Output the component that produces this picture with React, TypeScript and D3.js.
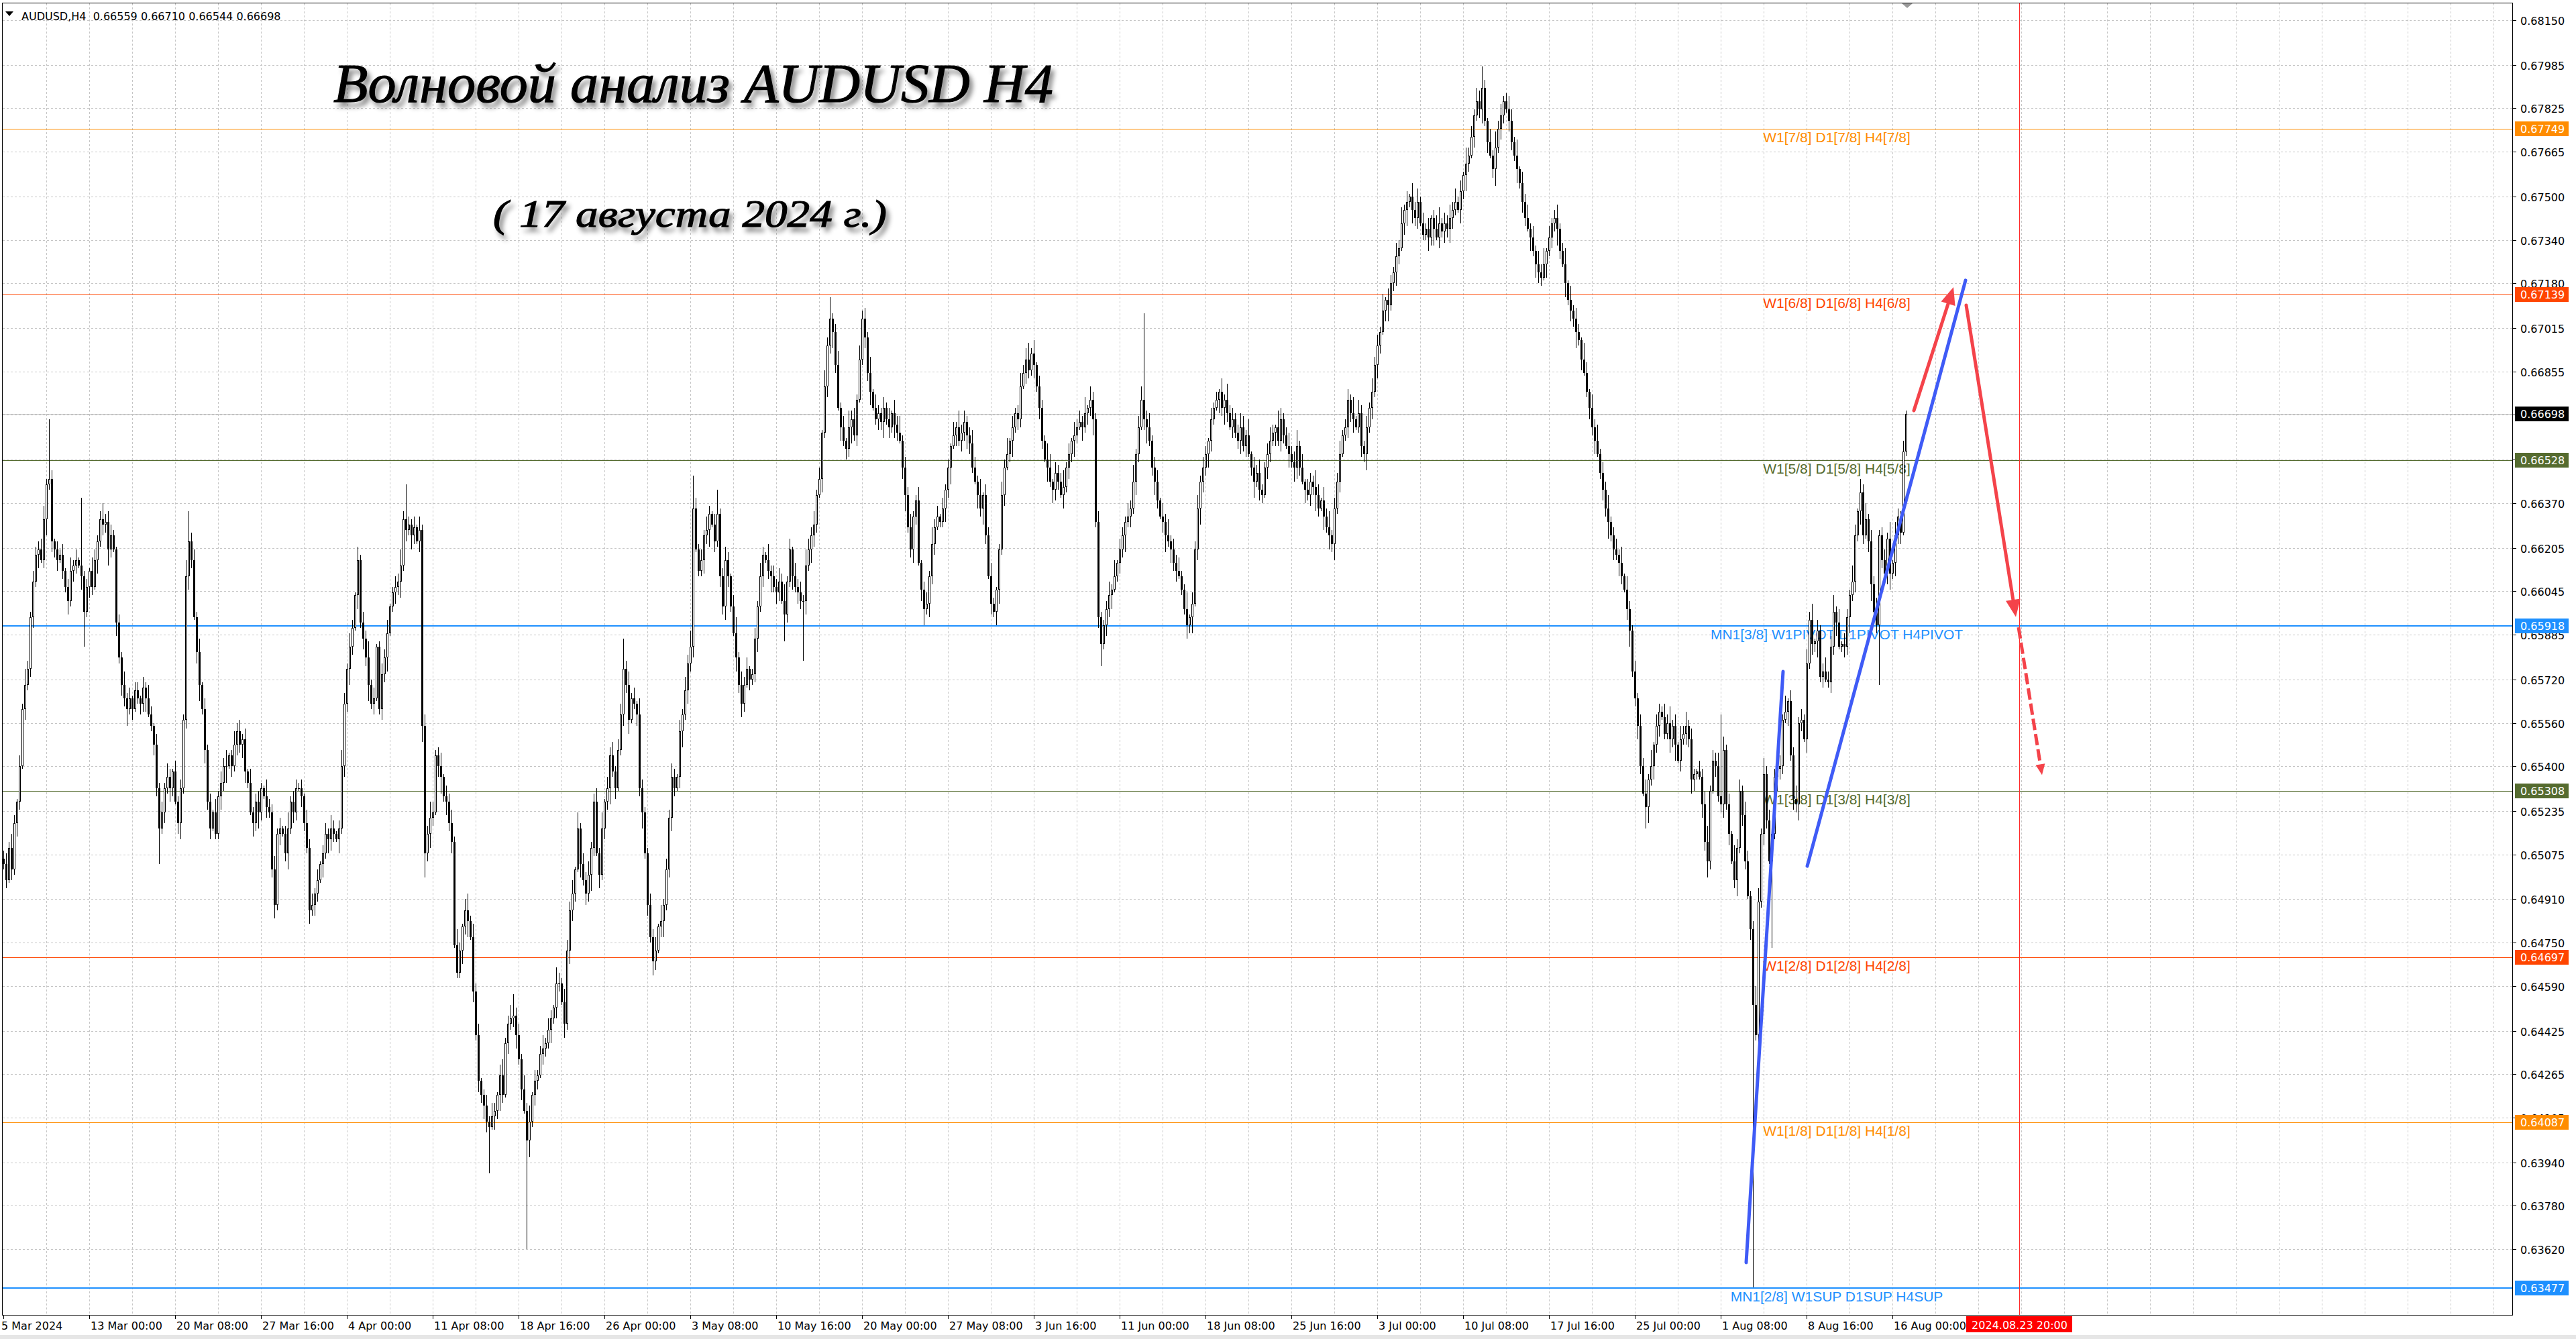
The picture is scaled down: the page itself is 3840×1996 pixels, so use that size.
import React from 'react';
import * as d3 from 'd3';

// AUDUSD H4, 5 Mar 2024 .. 16 Aug 2024, closes in pips (0.0001)
const closes: number[] = [
  6504, 6498, 6510, 6502, 6519, 6527, 6540, 6561, 6570, 6576,
  6595, 6608, 6618, 6620, 6616, 6631, 6644, 6646, 6623, 6620,
  6616, 6618, 6612, 6606, 6601, 6612, 6614, 6616, 6614, 6610,
  6597, 6606, 6612, 6606, 6616, 6623, 6631, 6629, 6630, 6620,
  6625, 6620, 6593, 6580, 6570, 6565, 6561, 6565, 6561, 6568,
  6565, 6563, 6569, 6565, 6559, 6555, 6548, 6532, 6517, 6523,
  6532, 6536, 6532, 6538, 6527, 6519, 6532, 6557, 6610, 6623,
  6616, 6595, 6582, 6570, 6561, 6546, 6527, 6517, 6523, 6515,
  6529, 6534, 6540, 6540, 6544, 6540, 6548, 6553, 6548, 6550,
  6538, 6534, 6523, 6519, 6527, 6523, 6532, 6529, 6525, 6523,
  6502, 6489, 6515, 6517, 6515, 6508, 6517, 6527, 6523, 6532,
  6532, 6529, 6519, 6510, 6487, 6489, 6493, 6498, 6504, 6508,
  6515, 6513, 6517, 6515, 6513, 6517, 6540, 6563, 6576, 6584,
  6591, 6603, 6616, 6593, 6587, 6580, 6570, 6563, 6565, 6584,
  6561, 6574, 6580, 6589, 6599, 6604, 6606, 6608, 6614, 6631,
  6627, 6629, 6625, 6628, 6623, 6627, 6555, 6508, 6515, 6521,
  6523, 6544, 6540, 6536, 6529, 6527, 6519, 6512, 6474, 6464,
  6472, 6481, 6487, 6483, 6477, 6457, 6441, 6424, 6419, 6415,
  6409, 6407, 6411, 6413, 6419, 6426, 6419, 6438, 6445, 6447,
  6448, 6441, 6432, 6421, 6413, 6402, 6409, 6419, 6424, 6426,
  6434, 6436, 6438, 6443, 6447, 6451, 6460, 6460, 6453, 6445,
  6472, 6487, 6493, 6502, 6517, 6504, 6498, 6493, 6500, 6510,
  6527, 6508, 6500, 6517, 6527, 6532, 6544, 6538, 6532, 6546,
  6559, 6576, 6570, 6557, 6565, 6563, 6559, 6532, 6523, 6508,
  6489, 6477, 6468, 6472, 6481, 6483, 6489, 6502, 6521, 6536,
  6532, 6536, 6553, 6559, 6568, 6578, 6584, 6635, 6620, 6612,
  6616, 6625, 6627, 6633, 6629, 6623, 6633, 6610, 6599, 6616,
  6610, 6599, 6589, 6580, 6570, 6563, 6570, 6576, 6572, 6574,
  6587, 6599, 6610, 6618, 6616, 6612, 6610, 6606, 6604, 6608,
  6601, 6596, 6608, 6620, 6610, 6606, 6604, 6601, 6601, 6614,
  6620, 6625, 6629, 6640, 6646, 6663, 6680, 6695, 6705, 6700,
  6688, 6672, 6665, 6660, 6657, 6665, 6668, 6662, 6675, 6690,
  6705, 6698, 6685, 6678, 6672, 6668, 6670, 6667, 6672, 6668,
  6665, 6670, 6666, 6663, 6660, 6650, 6640, 6628, 6620, 6632,
  6638, 6615, 6605, 6598, 6600, 6610, 6622, 6628, 6632, 6630,
  6635, 6642, 6650, 6658, 6662, 6665, 6660, 6663, 6667, 6662,
  6659, 6650, 6645, 6640, 6635, 6640, 6625, 6610, 6600, 6597,
  6605, 6620, 6640, 6650, 6655, 6660, 6665, 6670, 6668, 6680,
  6685, 6690, 6686, 6692, 6688, 6680, 6672, 6660, 6653, 6650,
  6645, 6642, 6648, 6645, 6640, 6643, 6650, 6655, 6660, 6662,
  6665, 6667, 6665, 6670, 6672, 6675, 6668, 6630, 6595, 6585,
  6592, 6598, 6603, 6605, 6610, 6615, 6620, 6625, 6630, 6632,
  6635, 6645, 6655, 6665, 6675, 6668, 6665, 6660, 6650, 6645,
  6638, 6632, 6630, 6625, 6623, 6620, 6615, 6612, 6610, 6605,
  6598, 6592, 6595, 6600, 6620, 6635, 6645, 6650, 6655, 6660,
  6668, 6672, 6675, 6678, 6672, 6675, 6670, 6665, 6668, 6663,
  6660, 6665, 6658, 6662, 6655, 6650, 6645, 6648, 6642, 6640,
  6650, 6655, 6660, 6663, 6665, 6660, 6668, 6662, 6658, 6655,
  6652, 6650, 6658, 6650, 6645, 6642, 6640, 6645, 6643, 6640,
  6635, 6638, 6632, 6628, 6625, 6622, 6635, 6645, 6655, 6662,
  6665, 6675, 6670, 6668, 6665, 6670, 6658, 6655, 6665, 6672,
  6678, 6688, 6695, 6700, 6708, 6712, 6710, 6718, 6722, 6728,
  6731, 6740, 6745, 6748, 6750, 6745, 6742, 6748, 6740, 6736,
  6738, 6735, 6742, 6738, 6735, 6740, 6737, 6740, 6738, 6742,
  6745, 6748, 6745, 6752, 6758, 6762, 6765, 6772, 6780, 6785,
  6782, 6790, 6778, 6770, 6765, 6760, 6768, 6775, 6780, 6785,
  6782, 6778, 6770, 6765, 6760, 6755, 6748, 6742, 6738, 6735,
  6730, 6725, 6722, 6720, 6725, 6730, 6735, 6740, 6742, 6738,
  6730, 6725, 6718, 6712, 6708, 6705, 6700, 6697, 6690, 6685,
  6678, 6672, 6665, 6660, 6655, 6648, 6642, 6635, 6630, 6625,
  6620, 6618, 6615, 6610, 6605, 6598, 6590, 6575, 6565, 6555,
  6540, 6530, 6525, 6535, 6540, 6548, 6555, 6560, 6558, 6552,
  6556, 6550, 6555, 6548, 6542, 6550, 6552, 6555, 6550, 6535,
  6537, 6538, 6536, 6526, 6512, 6505, 6531, 6542, 6540, 6529,
  6526, 6546, 6526, 6515, 6505, 6498, 6510, 6531, 6522, 6505,
  6492, 6480, 6452, 6441, 6490, 6515, 6537, 6520, 6505, 6515,
  6536, 6539, 6540, 6557, 6560, 6564, 6544, 6528, 6526, 6556,
  6557, 6550, 6578, 6594, 6585, 6586, 6590, 6573, 6575, 6572,
  6571, 6584, 6597, 6593, 6584, 6585, 6584, 6595, 6603, 6608,
  6625, 6634, 6641, 6625, 6631, 6623, 6607, 6597, 6592, 6625,
  6616, 6611, 6624, 6611, 6615, 6625, 6632, 6626, 6655.9, 6669.8,
];
const firstOpen = 6506;

// upper / lower shadow lengths in pips, one base-36 digit per bar
const wickUp = [
  '3425314263', '2433452m31', '324135241p', '2315423634', '4213252413', '3142531424', '253142326b', '3425142315',
  '2436125342', '4152342163', '3524136243', '2315342413', '4253136425', '3152436241', '2435124363', 'd324152436',
  '4235143526', '3146253412', '4253146235', '8342536142', '3524316425', '4351624352', '3526143524', '4b35241632',
  '2435162435', '3142536c42', '4253149235', '3146253412', '4253162435', '3624153426', '4352416382', '3524163425',
  '3426153242', '4153624352', '2513426341', '4231526342', '3542614352', '1253614235', '3462514326', '5143362415',
  '3426153242', '2352614325', '36245w3524', '4153624352', '2614352431', '4231526342', '3542614352', '2453164235',
  '3462514326', '4153624352', '3426153242', '5342614325', '3624153524', '2413562435', '3524163425', '4831526342',
  '3542614352', '4253614235', '2361524316', '4153624352', '3426153242', '4352614325', '3624153524', '2143562435',
  'u524163425', '4237526342', '3542614352', '4253614235', '3462514326', '4153624352', '3426153241',
].join('');
const wickDown = [
  '2314253142', '3425136243', '4132524315', 'd243152436', '3152436241', '24351243d2', '4253146235', '3146253412',
  '2536142435', '4215363142', '3524136243', '1432524315', '2543152436', '3152436241', '2435124362', '4253146935',
  '3146253412', '2536142435', '4h15363142', '3524136243', '1432524315', '2543152436', '3152436241', '2435124362',
  '4253146235', '3146253412', '2536142435', '4215353142', '3524136243', '1a325243m5', '2543152436', '3152436241',
  '2435124362', '4253146235', '3146253412', '2536142435', '4215363142', '5524136243', '1432524315', '2543152436',
  '3152436248', '2435124362', '4253146235', '3146253412', '2536146435', '4215363142', '3524136243', '1432524315',
  '2543152436', '3152536241', '2435124362', '4253146235', '3146253412', '2536142435', '4215363142', '3524136243',
  '1432524315', '2543152436', '3152436241', '2435124362', '4253146235', '3186253412', '2536142435', '4215363142',
  '3524136243', '143252431w', '2543152436', '3152436241', '2435124362', '425314623m', '3146253411',
].join('');
const lowSpikes: [number, number][] = [[195, 6362], [652, 6348], [709, 6654.4]];
const highSpikes: [number, number][] = [[709, 6671.0]];

const priceTicks = [
  '0.68150', '0.67985', '0.67825', '0.67665', '0.67500', '0.67340', '0.67180', '0.67015', '0.66855', '0.66695',
  '0.66530', '0.66370', '0.66205', '0.66045', '0.65885', '0.65720', '0.65560', '0.65400', '0.65235', '0.65075',
  '0.64910', '0.64750', '0.64590', '0.64425', '0.64265', '0.64105', '0.63940', '0.63780', '0.63620',
];
const timeLabels = [
  '5 Mar 2024', '13 Mar 00:00', '20 Mar 08:00', '27 Mar 16:00', '4 Apr 00:00', '11 Apr 08:00', '18 Apr 16:00',
  '26 Apr 00:00', '3 May 08:00', '10 May 16:00', '20 May 00:00', '27 May 08:00', '3 Jun 16:00', '11 Jun 00:00',
  '18 Jun 08:00', '25 Jun 16:00', '3 Jul 00:00', '10 Jul 08:00', '17 Jul 16:00', '25 Jul 00:00', '1 Aug 08:00',
  '8 Aug 16:00', '16 Aug 00:00',
];
const barsPerLabel = 32;

// Murrey math levels
const levelPrices = [0.67749, 0.67139, 0.66528, 0.65918, 0.65308, 0.64697, 0.64087, 0.63477];
const levelTexts = [
  'W1[7/8] D1[7/8] H4[7/8]', 'W1[6/8] D1[6/8] H4[6/8]', 'W1[5/8] D1[5/8] H4[5/8]',
  'MN1[3/8] W1PIVOT D1PIVOT H4PIVOT', 'W1[3/8] D1[3/8] H4[3/8]', 'W1[2/8] D1[2/8] H4[2/8]',
  'W1[1/8] D1[1/8] H4[1/8]', 'MN1[2/8] W1SUP D1SUP H4SUP',
];
const bidPrice = 0.66698;
const futureBar = 751.25; // 2024.08.23 20:00 marker

// hand-drawn lines: [bar, price]
const blueLines: [number, number][][] = [
  [[649.5, 0.63571], [663.25, 0.65749]],
  [[672.25, 0.65032], [731.25, 0.67191]],
];
const redArrows: [number, number][][] = [
  [[712, 0.66711], [726.75, 0.67166]],
  [[731.5, 0.67099], [750, 0.6595]],
];
const redDashed: [number, number][] = [[751, 0.65912], [759.75, 0.65368]];

const W = 3840;
const H = 1996;
const LEFT = 3.5, TOP = 4.5, RIGHT = 3745.5, BOTTOM = 1960.5;
const levelColors = ['#ff8c00', '#ff4500', '#556b2f', '#1e90ff', '#556b2f', '#ff4500', '#ff8c00', '#1e90ff'];
const AXIS_FONT = 'DejaVu Sans, Verdana, sans-serif';
const BLUE = '#3f5bf6';
const RED = '#f4434a';

function arrow(p0: [number, number], p1: [number, number], len: number, half: number) {
  const dx = p1[0] - p0[0], dy = p1[1] - p0[1];
  const d = Math.hypot(dx, dy);
  const ux = dx / d, uy = dy / d;
  const bx = p1[0] - ux * len, by = p1[1] - uy * len;
  const head = `${p1[0]},${p1[1]} ${bx - uy * half},${by + ux * half} ${bx + uy * half},${by - ux * half}`;
  return { base: [bx, by] as [number, number], head };
}

export default function App() {
  const n = closes.length;
  const x = d3.scaleLinear().domain([0, n - 1]).range([5, 5 + 4 * (n - 1)]);
  const y = d3.scaleLinear().domain([0.63477, 0.6815]).range([1920, 30]);

  const candles = closes.map((c, i) => {
    const o = i === 0 ? firstOpen : closes[i - 1];
    let hi = Math.max(o, c) + (parseInt(wickUp[i] || '2', 36));
    let lo = Math.min(o, c) - (parseInt(wickDown[i] || '2', 36));
    const hs = highSpikes.find((s) => s[0] === i);
    const ls = lowSpikes.find((s) => s[0] === i);
    if (hs) hi = hs[1];
    if (ls) lo = ls[1];
    return { i, o: o / 1e4, h: hi / 1e4, l: lo / 1e4, c: c / 1e4 };
  });

  const vGrid = d3.range(1, 59).map((k) => 5 + 64 * k).filter((v) => v < RIGHT);
  const px = (p: [number, number]): [number, number] => [x(p[0]), y(p[1])];

  const tags = [
    ...levelPrices.map((p, i) => ({ p, color: levelColors[i] })),
    { p: bidPrice, color: '#000000' },
  ];

  return (
    <div style={{ position: 'absolute', left: 0, top: 0 }}>
      <svg width={W} height={H} style={{ display: 'block', background: '#fff' }}>
        <defs>
          <clipPath id="plot">
            <rect x={LEFT} y={TOP} width={RIGHT - LEFT} height={BOTTOM - TOP} />
          </clipPath>
          <filter id="shadow" x="-5%" y="-30%" width="110%" height="180%">
            <feDropShadow dx="5" dy="7" stdDeviation="3.5" floodColor="#000" floodOpacity="0.45" />
          </filter>
        </defs>
        <rect x={0} y={1990} width={W} height={6} fill="#e6e6e6" />

        <g clipPath="url(#plot)">
          {/* grid */}
          <g stroke="#c6c6c6" strokeWidth={1} strokeDasharray="3,3" shapeRendering="crispEdges">
            {priceTicks.map((t) => (
              <line key={t} x1={LEFT} x2={RIGHT} y1={Math.round(y(+t)) + 0.5} y2={Math.round(y(+t)) + 0.5} />
            ))}
            {vGrid.map((v) => (
              <line key={v} x1={v + 0.5} x2={v + 0.5} y1={TOP} y2={BOTTOM} />
            ))}
          </g>

          {/* bid line */}
          <line x1={LEFT} x2={RIGHT} y1={Math.round(y(bidPrice)) + 0.5} y2={Math.round(y(bidPrice)) + 0.5}
            stroke="#c0c0c0" strokeWidth={1} shapeRendering="crispEdges" />

          {/* levels */}
          {levelPrices.map((p, i) => {
            const ly = Math.round(y(p));
            const thick = levelTexts[i].startsWith('MN1');
            return (
              <g key={p}>
                <line x1={LEFT} x2={RIGHT} y1={thick ? ly : ly + 0.5} y2={thick ? ly : ly + 0.5}
                  stroke={levelColors[i]} strokeWidth={thick ? 2 : 1} shapeRendering="crispEdges" />
                <text x={2738} y={ly + 20} textAnchor="middle" fontFamily="Liberation Sans, Arial, sans-serif"
                  fontSize={21} fill={levelColors[i]}>{levelTexts[i]}</text>
              </g>
            );
          })}

          {/* future marker */}
          <line x1={Math.round(x(futureBar)) + 0.5} x2={Math.round(x(futureBar)) + 0.5} y1={TOP} y2={BOTTOM}
            stroke="#ff2a2a" strokeWidth={1} shapeRendering="crispEdges" />

          {/* candles */}
          <g shapeRendering="crispEdges">
            {candles.map((d) => {
              const cx = Math.round(x(d.i));
              const yh = Math.round(y(d.h));
              const yl = Math.round(y(d.l));
              const top = Math.round(y(Math.max(d.o, d.c)));
              const bot = Math.round(y(Math.min(d.o, d.c)));
              const hgt = bot - top;
              const bull = d.c >= d.o;
              return (
                <g key={d.i}>
                  <rect x={cx} y={yh} width={1} height={Math.max(1, yl - yh)} fill="#000" />
                  {hgt < 2 ? (
                    <rect x={cx - 1} y={top} width={3} height={Math.max(1, hgt)} fill="#000" />
                  ) : bull ? (
                    <rect x={cx - 0.5} y={top + 0.5} width={2} height={hgt - 1} fill="#fff" stroke="#000" strokeWidth={1} />
                  ) : (
                    <rect x={cx - 1} y={top} width={3} height={hgt} fill="#000" />
                  )}
                </g>
              );
            })}
          </g>

          {/* drawn wave lines */}
          {blueLines.map((ln, i) => {
            const a = px(ln[0]), b = px(ln[1]);
            return <line key={i} x1={a[0]} y1={a[1]} x2={b[0]} y2={b[1]} stroke={BLUE} strokeWidth={5} strokeLinecap="round" />;
          })}
          {redArrows.map((ln, i) => {
            const a = px(ln[0]), b = px(ln[1]);
            const ar = arrow(a, b, 26, 11);
            return (
              <g key={i}>
                <line x1={a[0]} y1={a[1]} x2={ar.base[0]} y2={ar.base[1]} stroke={RED} strokeWidth={5} strokeLinecap="round" />
                <polygon points={ar.head} fill={RED} />
              </g>
            );
          })}
          {(() => {
            const a = px(redDashed[0]), b = px(redDashed[1]);
            const ar = arrow(a, b, 16, 7);
            return (
              <g>
                <line x1={a[0]} y1={a[1]} x2={ar.base[0]} y2={ar.base[1]} stroke={RED} strokeWidth={5} strokeDasharray="17,6" />
                <polygon points={ar.head} fill={RED} />
              </g>
            );
          })()}

          {/* title */}
          <g filter="url(#shadow)" fontFamily="Liberation Serif, DejaVu Serif, serif" fontStyle="italic" fill="#000"
            stroke="#000" strokeWidth={1.2}>
            <text x={497} y={152} fontSize={82} textLength={1073} lengthAdjust="spacingAndGlyphs">Волновой анализ AUDUSD H4</text>
            <text x={735} y={338} fontSize={58} textLength={587} lengthAdjust="spacingAndGlyphs">( 17 августа 2024 г.)</text>
          </g>
        </g>

        {/* header */}
        <polygon points="8,17 20,17 14,24" fill="#000" />
        <text x={32} y={30} fontFamily={AXIS_FONT} fontSize={16} fill="#000" style={{ whiteSpace: 'pre' }}>
          {'AUDUSD,H4  0.66559 0.66710 0.66544 0.66698'}
        </text>
        <polygon points="2835,5 2851,5 2843,12" fill="#9a9a9a" />

        {/* frame */}
        <rect x={LEFT} y={TOP} width={RIGHT - LEFT} height={BOTTOM - TOP} fill="none" stroke="#000" strokeWidth={1}
          shapeRendering="crispEdges" />

        {/* price axis */}
        <g fontFamily={AXIS_FONT} fontSize={16} shapeRendering="crispEdges">
          {priceTicks.map((t) => {
            const ty = Math.round(y(+t)) + 0.5;
            return (
              <g key={t}>
                <line x1={RIGHT} x2={RIGHT + 5} y1={ty} y2={ty} stroke="#000" />
                <text x={3757} y={ty + 6} fill="#000">{t}</text>
              </g>
            );
          })}
          {tags.map((tg) => {
            const ty = Math.round(y(tg.p));
            return (
              <g key={tg.p}>
                <rect x={3749} y={ty - 11} width={80} height={22} fill={tg.color} />
                <text x={3757} y={ty + 6} fill="#fff">{tg.p.toFixed(5)}</text>
              </g>
            );
          })}
        </g>

        {/* time axis */}
        <g fontFamily={AXIS_FONT} fontSize={16} fill="#000">
          {timeLabels.map((t, k) => {
            const lx = Math.round(x(k * barsPerLabel));
            return (
              <g key={t}>
                <line x1={lx + 0.5} x2={lx + 0.5} y1={BOTTOM} y2={BOTTOM + 5} stroke="#000" shapeRendering="crispEdges" />
                <text x={k === 0 ? 2 : lx + 2} y={1982}>{t}</text>
              </g>
            );
          })}
          <rect x={Math.round(x(futureBar)) - 79} y={1962} width={158} height={24} fill="#ff0000" />
          <text x={Math.round(x(futureBar)) + 0.5} y={1981} textAnchor="middle" fill="#fff">2024.08.23 20:00</text>
        </g>
      </svg>
    </div>
  );
}
